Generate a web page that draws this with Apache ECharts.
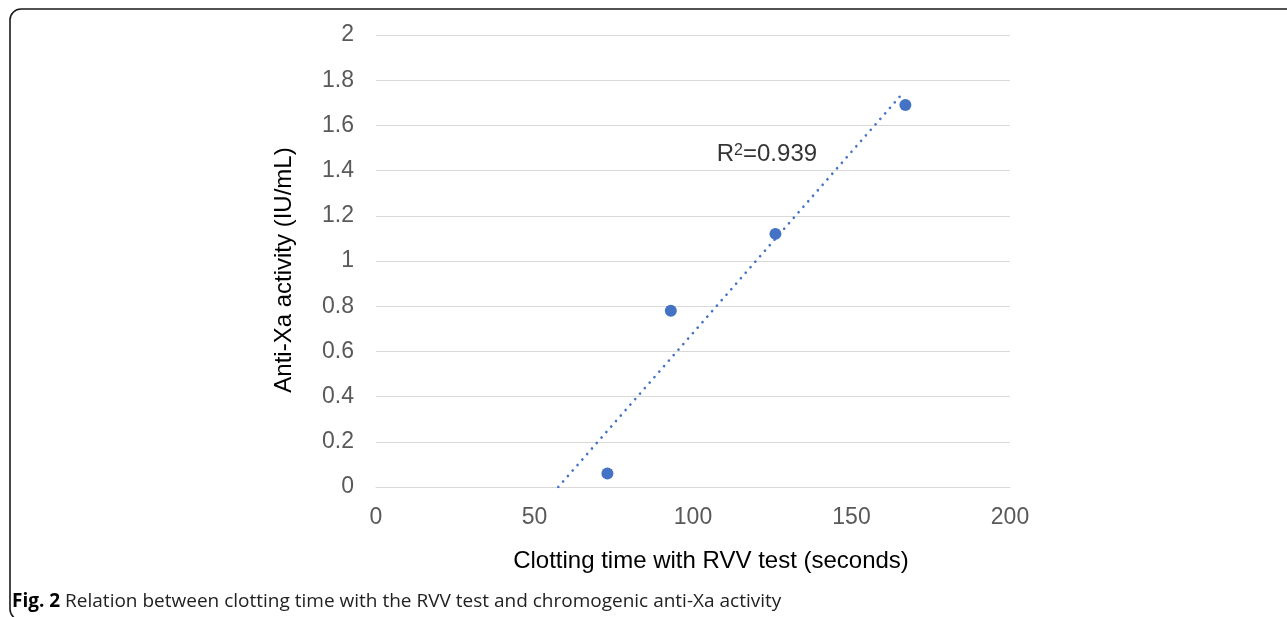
<!DOCTYPE html>
<html><head><meta charset="utf-8">
<script src="https://cdn.jsdelivr.net/npm/echarts@6/dist/echarts.min.js"></script>
<style>html,body{margin:0;padding:0;background:#fff}#c{width:1287px;height:617px}</style>
</head><body><div id="c"></div>
<script>
const xTitle = 'Clotting time with RVV test (seconds)';
const yTitle = 'Anti-Xa activity (IU/mL)';
const clottingTime = [73, 93, 126, 167];
const antiXa = [0.06, 0.78, 1.12, 1.69];
const trendX = [57.5, 166];
const trendY = [0, 1.74];
const r2Base = 'R';
const r2Sup = '2';
const r2Rest = '=0.939';
const r2Pos = [107.5, 1.47];
const figLabel = 'Fig. 2';
const caption = 'Relation between clotting time with the RVV test and chromogenic anti-Xa activity';

const chart = echarts.init(document.getElementById('c'));
const font = 'Liberation Sans, Arial, sans-serif';
chart.setOption({
  animation: false,
  grid: {left: 376, right: 277, top: 35, bottom: 130},
  xAxis: {
    type: 'value', min: 0, max: 200, interval: 50,
    name: xTitle, nameLocation: 'middle', nameGap: 62,
    nameTextStyle: {fontFamily: font, fontSize: 24, color: '#000', padding: [0, 0, 0, 36]},
    axisLine: {show: true, lineStyle: {color: '#d9d9d9', width: 1}},
    axisTick: {show: false},
    splitLine: {show: false},
    axisLabel: {fontFamily: font, fontSize: 23, color: '#595959', margin: 19}
  },
  yAxis: {
    type: 'value', min: 0, max: 2, interval: 0.2,
    name: yTitle, nameLocation: 'middle', nameGap: 80,
    nameTextStyle: {fontFamily: font, fontSize: 24, color: '#000', padding: [0, 18, 0, 0]},
    axisLine: {show: false}, axisTick: {show: false},
    splitLine: {lineStyle: {color: '#d9d9d9', width: 1}},
    axisLabel: {fontFamily: font, fontSize: 23, color: '#595959', margin: 22, padding: [3, 0, 0, 0],
      formatter: v => String(Math.round(v * 10) / 10)}
  },
  series: [
    {
      type: 'line', data: trendX.map((x, i) => [x, trendY[i]]),
      symbol: 'none', lineStyle: {color: '#4472C4', width: 2.6, type: [0.1, 7.2], cap: 'round'}, silent: true
    },
    {
      type: 'scatter', data: clottingTime.map((x, i) => [x, antiXa[i]]),
      symbolSize: 12, itemStyle: {color: '#4472C4', opacity: 1}
    },
    {
      type: 'scatter', data: [r2Pos], symbolSize: 0,
      label: {show: true, position: 'right', distance: 0,
        formatter: '{r|' + r2Base + '}{s|' + r2Sup + '}{r|' + r2Rest + '}',
        rich: {
          r: {fontFamily: font, fontSize: 24, color: '#000', lineHeight: 28},
          s: {fontFamily: font, fontSize: 16, color: '#000', lineHeight: 28, padding: [0, 0, 8, 0]}
        }}
    }
  ],
  graphic: [
    {type: 'rect', shape: {x: 10, y: 9, width: 1320, height: 611, r: 11},
      style: {fill: 'none', stroke: '#1a1a1a', lineWidth: 1.6}},
    {type: 'text', left: 12, top: 592, style: {
      text: '{b|' + figLabel + '} ' + caption,
      rich: {b: {fontWeight: 'bold', fontFamily: 'Open Sans, sans-serif', fontSize: 19, fill: '#000'}},
      fontFamily: 'Open Sans, sans-serif', fontSize: 19, fill: '#222'}}
  ]
});
</script></body></html>
